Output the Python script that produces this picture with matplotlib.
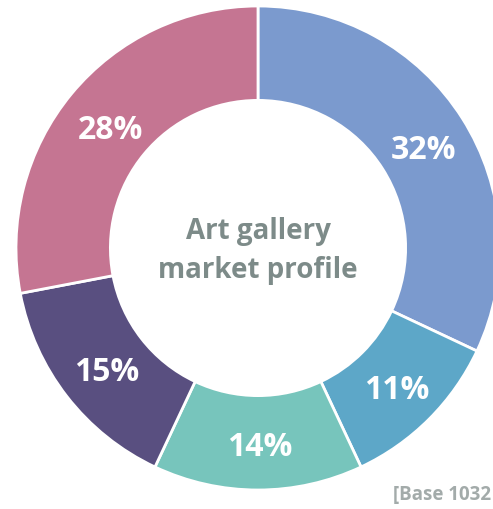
import matplotlib.pyplot as plt

# slices, clockwise from 12 o'clock
shares = [32, 11, 14, 15, 28]
labels = ['32%', '11%', '14%', '15%', '28%']
colors = ['#7B9ACE', '#5DA7C8', '#77C5BC', '#594F80', '#C57592']

title = 'Art gallery\nmarket profile'
note = '[Base 1032'

W, H = 493, 510
fig = plt.figure(figsize=(W / 100, H / 100), dpi=100)
ax = fig.add_axes([0, 0, 1, 1])

# y axis runs downward, so -90 is the top and counterclock turns clockwise on screen
wedges, texts = ax.pie(
    shares, labels=labels, colors=colors,
    startangle=-90, counterclock=True,
    center=(258, 249), radius=242, frame=True,
    labeldistance=0.8,
    wedgeprops=dict(width=242 * 0.39, edgecolor='white', linewidth=2),
    textprops=dict(color='white', fontsize=23, fontweight='bold',
                   family='Open Sans', va='center'),
)
for t in texts:
    t.set_horizontalalignment('center')
    # nudge down a little, the original uses old-style figures
    x, y = t.get_position()
    t.set_position((x + 2, y + 5))

ax.set_xlim(0, W)
ax.set_ylim(H, 0)
ax.set_aspect('equal')
ax.axis('off')

ax.text(258, 251, title, ha='center', va='center', fontsize=20,
        fontweight='bold', family='Open Sans', color='#7D8B89',
        linespacing=1.45)

ax.text(491, 495, note, ha='right', va='center', fontsize=13.5,
        fontweight='bold', family='Open Sans', color='#A3ABAA')

fig.savefig('out.png', dpi=100)
